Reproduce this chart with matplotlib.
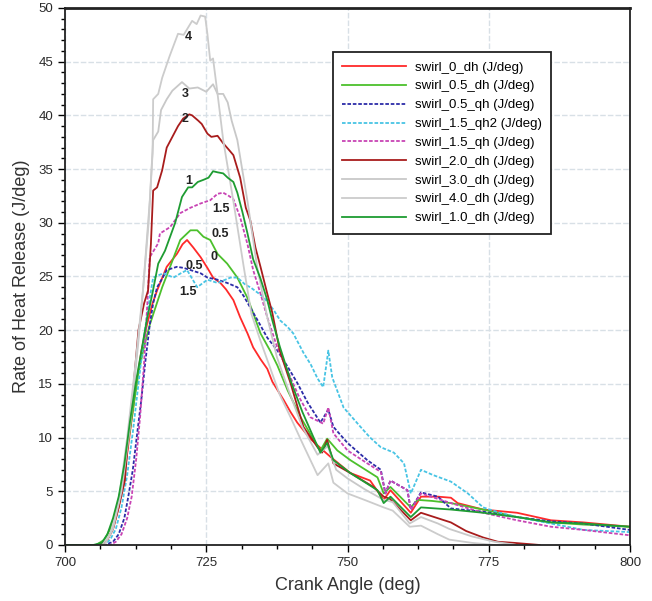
import matplotlib.pyplot as plt
from matplotlib.ticker import MultipleLocator

plt.rcParams['font.family'] = ['Liberation Sans', 'DejaVu Sans']

# crank angle (deg) / rate of heat release (J/deg)
x_s0 = [700, 706, 707.5, 708.5, 709.5, 710.5, 711.5, 712.5, 713.5, 714.5, 715.5, 716.3, 718, 719.8,
        720.8, 721.6, 722.7, 724, 725.2, 726.2, 727.5, 728.5, 729.8, 731, 732.3, 733.3, 734.6, 735.8,
        736.7, 738.7, 739.9, 741.1, 743.4, 745.7, 747, 750.5, 754, 756.4, 757.6, 761.2, 763, 766,
        768.3, 769.5, 774, 780, 786, 791.8, 800]
y_s0 = [0, 0, 0.5, 1.5, 3.5, 6.5, 10.5, 14.5, 18, 20.5, 22.5, 23.7, 25.9, 27.1,
        28, 28.4, 27.7, 26.8, 25.8, 24.9, 24.4, 23.8, 22.8, 21.2, 19.7, 18.4, 17.3, 16.4,
        15.2, 13.5, 12.4, 11.4, 9.9, 8.8, 8.2, 6.7, 6.0, 4.2, 5.1, 3.0, 4.5, 4.5,
        4.4, 3.9, 3.3, 3.0, 2.3, 2.1, 1.7]

x_s05 = [700, 705.5, 707, 708, 709, 710, 711, 712, 713, 714, 715, 716, 717.2, 718.6, 720.4, 722.2,
         723.4, 724.5, 725.7, 727, 728.7, 730.5, 732.3, 733.3, 734.6, 736.3, 737.6, 739.4, 741.7, 744,
         745.2, 746.4, 748.2, 750.5, 755.3, 756.4, 757.6, 761.2, 762.4, 765, 768.3, 774, 780, 786,
         791.8, 800]
y_s05 = [0, 0, 0.5, 1.5, 3, 5.5, 9, 12.5, 16, 18.5, 20.5, 22.1, 24, 25.9, 28.4, 29.3,
         29.3, 28.7, 28.4, 27.1, 26.2, 24.9, 23, 21.6, 19.7, 18.1, 16.7, 14.4, 11.9, 9.8,
         8.8, 9.9, 8.8, 7.9, 6.3, 4.8, 5.4, 3.5, 4.2, 4.1, 3.9, 3.3, 2.6, 2.1,
         1.9, 1.7]

x_s05q = [700, 707, 708.5, 709.5, 710.5, 711.2, 712, 712.8, 713.5, 714.2, 715, 715.6, 716.3, 717.2,
          718, 719.8, 721, 722.2, 724, 725.2, 727, 728.7, 730.5, 731.6, 732.8, 734, 735.8, 737.6,
          739.4, 741.1, 742.9, 745.2, 746.6, 747.5, 750, 753.5, 755.9, 756.7, 757.6, 760.6, 761.2,
          763, 766, 768.3, 774, 780, 786, 791.8, 800]
y_s05q = [0, 0, 0.3, 1, 2.5, 4.5, 7, 10.5, 13.5, 17, 20.5, 22.5, 24, 24.8,
          25.6, 25.9, 25.8, 25.6, 25.3, 24.9, 24.7, 24.4, 24, 23.2, 22.1, 21, 19.3, 18.1,
          16.6, 15.1, 13.3, 11.4, 12.6, 11, 9.5, 7.9, 7, 4.8, 6, 5.1, 3.3,
          4.9, 4.5, 3.4, 3.1, 2.6, 2.2, 2.0, 1.4]

x_s15q2 = [700, 707, 708, 709, 710, 711, 712, 713, 714, 715, 715.6, 717.4, 719.2, 720.5, 721.6,
           722.5, 723.4, 725.2, 727, 729.3, 730.5, 732, 732.8, 735.1, 736.9, 738.1, 739.4, 740.4,
           742.2, 743.5, 744.7, 745.7, 746.6, 747.3, 749.3, 752.3, 754, 755.9, 758.2, 760, 761.2,
           763, 765.2, 768.3, 771.3, 774, 777, 780, 786, 791.8, 800]
y_s15q2 = [0, 0, 0.5, 1.5, 3.5, 6.5, 10.5, 15, 19.5, 23, 24.9, 25.3, 24.9, 25.3, 25.6,
           24.8, 24, 24.7, 24.4, 24.9, 24.9, 24.2, 24, 23.1, 21.9, 20.9, 20.3, 19.7,
           17.9, 16.8, 15.5, 14.7, 18.1, 15.6, 12.8, 11, 10, 9.1, 8.6, 7.6, 4.8,
           7.0, 6.5, 5.9, 4.8, 3.5, 3.0, 2.6, 2.0, 1.4, 1.2]

x_s15q = [700, 708, 709, 710, 711, 711.8, 712.6, 713.3, 714, 714.7, 715, 716.5, 716.8, 718.6, 720.4,
          722.2, 724, 725.7, 727, 728, 729, 729.8, 731, 732.3, 733.3, 734.6, 735.8, 737.5, 739.9,
          741.5, 743.4, 745.7, 746.6, 747.5, 750, 753.5, 755.9, 756.7, 757.6, 760.6, 761.2, 763,
          768.3, 774, 780, 786, 791.8, 800]
y_s15q = [0, 0, 0.3, 1, 2.5, 4.5, 8, 12, 17, 23.7, 26.8, 28.1, 29, 29.6, 30.9,
          31.4, 31.8, 32.1, 32.7, 32.8, 32.5, 32.2, 30.5, 28, 25.6, 23.4, 21.2, 18.5, 15.6,
          13.7, 11.9, 11.3, 12.8, 10.4, 8.8, 7.6, 6.8, 4.8, 6.0, 5.1, 3.3, 4.8,
          3.9, 3.0, 2.3, 1.7, 1.4, 0.9]

x_s2 = [700, 706.5, 707.5, 708.5, 709.5, 710.6, 711.2, 712, 713, 714, 714.7, 715.2, 715.6, 716.3,
        717.2, 718, 719, 720, 720.9, 722, 722.5, 723.6, 724.2, 725.2, 725.9, 727, 728, 729, 729.8,
        731, 732, 732.8, 733.7, 734.6, 735.8, 736.7, 738, 739.9, 742.2, 744.7, 745.5, 746.4, 747.5,
        750.5, 754.6, 756.4, 757.5, 761.2, 763, 768.3, 771, 774, 776.6, 779.4, 784]
y_s2 = [0, 0, 0.5, 1.5, 3.5, 6, 10, 14, 20, 22.5, 23.7, 28, 33, 33.3,
        34.9, 37, 38, 39, 39.7, 40.1, 40, 39.5, 39.2, 38.3, 38, 38.1, 37.4, 36.8, 36.3,
        34.2, 31.4, 30.2, 27.7, 25.9, 23.4, 21.6, 18.1, 15.1, 11, 9.1, 8.6, 9.8, 7.6,
        6.7, 5.4, 4.5, 4.3, 2.3, 3, 2.1, 1.3, 0.7, 0.3, 0.2, 0]

x_s3 = [700, 707, 708.5, 710, 711.5, 713, 713.8, 715, 715.6, 716.5, 717, 718, 719, 720.7, 722,
        723.5, 725, 726.2, 727, 728, 728.8, 729.5, 730.5, 732.3, 734, 735.8, 737.5, 739.5, 742,
        744.7, 746.5, 748, 750, 753, 756.4, 758, 761, 763, 766, 768, 772, 776, 780]
y_s3 = [0, 0, 1.5, 5, 11, 19, 23.7, 32, 37.7, 38.5, 40.5, 41.5, 42.3, 43.1, 42.5,
        42.6, 42.2, 42.9, 42, 42, 41.2, 39.5, 37.7, 32, 25.9, 21.2, 17.5, 14.5, 11,
        8.4, 9.2, 7, 6.2, 5.2, 4.2, 4, 2.0, 2.6, 2, 1.5, 0.8, 0.3, 0]

x_s4 = [700, 706.5, 708, 709.5, 711, 712.5, 713.8, 714.8, 715.5, 715.6, 716.5, 717.2, 718.5, 720,
        721, 722.5, 723.3, 724, 724.8, 725.2, 725.7, 726.2, 727, 728, 729.8, 731.6, 733, 734.6,
        736.3, 738, 740, 742, 744.7, 746.6, 747.5, 750, 753, 756.4, 758, 761, 763, 766, 768, 772,
        776]
y_s4 = [0, 0, 1, 4, 10, 17, 23.7, 30, 36.5, 41.5, 42, 43.5, 45.5, 47.6,
        47.5, 48.8, 48.5, 49.3, 49.2, 47.6, 45.1, 45.3, 42, 37.7, 32, 26, 21.5, 19,
        16.5, 14, 11.8, 9.5, 6.5, 7.6, 5.8, 4.8, 4.2, 3.5, 3.2, 1.7, 1.8, 1.0, 0.5, 0.2,
        0]

x_s1 = [700, 705, 706.5, 707.5, 708.5, 709.5, 710.5, 711.5, 712.5, 713.5, 714.5, 715.5, 716.5,
        717.7, 719.5, 720.7, 721.8, 722.5, 723.5, 724.5, 725.4, 726.2, 727, 728, 728.8, 729.8,
        730.5, 731.4, 732.3, 733.3, 734.6, 735.8, 736.7, 738, 740, 742, 744, 745.2, 746.4, 747.5,
        750.5, 755.3, 756.4, 757.6, 761.2, 763, 768.3, 774, 780, 786, 791.8, 800]
y_s1 = [0, 0, 0.2, 1, 2.5, 4.5, 7.5, 11.5, 15, 18, 21, 23.5, 26.2,
        27.4, 30, 32.4, 33.3, 33.3, 33.8, 34, 34.2, 34.8, 34.7, 34.6, 34.2, 33.8,
        32.8, 31, 29, 26.6, 24.8, 22.8, 20.9, 18.5, 15.2, 12.4, 10, 8.6, 9.5, 7.9,
        6.7, 5.1, 3.9, 4.5, 2.6, 3.5, 3.3, 3.0, 2.6, 2.1, 2.0, 1.7]

labels = ['swirl_0_dh (J/deg)', 'swirl_0.5_dh (J/deg)', 'swirl_0.5_qh (J/deg)',
          'swirl_1.5_qh2 (J/deg)', 'swirl_1.5_qh (J/deg)', 'swirl_2.0_dh (J/deg)',
          'swirl_3.0_dh (J/deg)', 'swirl_4.0_dh (J/deg)', 'swirl_1.0_dh (J/deg)']

# curve tags written next to the peaks
tag_text = ['4', '3', '2', '1', '1.5', '0.5', '0', '0.5', '1.5']
tag_x = [721.9, 721.2, 721.2, 721.9, 727.6, 727.4, 726.4, 722.9, 721.8]
tag_y = [47.3, 42.0, 39.7, 33.9, 31.3, 29.0, 26.8, 26.0, 23.6]

series = [
    (x_s0, y_s0, '#ff2a2a', '-'),
    (x_s05, y_s05, '#4cc02c', '-'),
    (x_s05q, y_s05q, '#2c2ca8', (0, (2, 1))),
    (x_s15q2, y_s15q2, '#48c4e4', (0, (2, 1))),
    (x_s15q, y_s15q, '#c844b4', (0, (2, 1))),
    (x_s2, y_s2, '#a81c1c', '-'),
    (x_s3, y_s3, '#c8c8c8', '-'),
    (x_s4, y_s4, '#cccccc', '-'),
    (x_s1, y_s1, '#1e9c32', '-'),
]

fig = plt.figure(figsize=(6.52, 6.01), dpi=100)
ax = fig.add_axes([0.0997, 0.0932, 0.8666, 0.8935])

for (xs, ys, c, ls), lab in zip(series, labels):
    ax.plot(xs, ys, color=c, ls=ls, lw=1.3, label=lab)

for t, tx, ty in zip(tag_text, tag_x, tag_y):
    ax.text(tx, ty, t, fontsize=9, fontweight='bold', ha='center', va='center', color='#222222')

ax.set_xlim(700, 800)
ax.set_ylim(0, 50)
ax.xaxis.set_major_locator(MultipleLocator(25))
ax.xaxis.set_minor_locator(MultipleLocator(6.25))
ax.yaxis.set_major_locator(MultipleLocator(5))
ax.yaxis.set_minor_locator(MultipleLocator(1))
ax.tick_params(which='major', direction='out', length=5, width=1, labelsize=9.5,
               labelcolor='#2a2a2a')
ax.tick_params(which='minor', direction='out', length=3, width=1)
ax.grid(True, which='major', color='#d8e0e6', lw=1, ls=(0, (4, 1.5)))
ax.set_axisbelow(True)
for s in ax.spines.values():
    s.set_color('#222222')
    s.set_linewidth(1.3)
ax.spines['top'].set_linewidth(2)

ax.set_xlabel('Crank Angle (deg)', fontsize=13, color='#333333', labelpad=6)
ax.set_ylabel('Rate of Heat Release (J/deg)', fontsize=13, color='#333333', labelpad=6)

leg = ax.legend(loc='upper left', bbox_to_anchor=(0.463, 0.93), fontsize=9.5,
                handlelength=4.8, frameon=True, fancybox=False, borderpad=0.7,
                labelspacing=0.5, handletextpad=0.7)
leg.get_frame().set_edgecolor('#222222')
leg.get_frame().set_linewidth(1.3)
leg.get_frame().set_alpha(1)

fig.savefig('out.png', dpi=100)
